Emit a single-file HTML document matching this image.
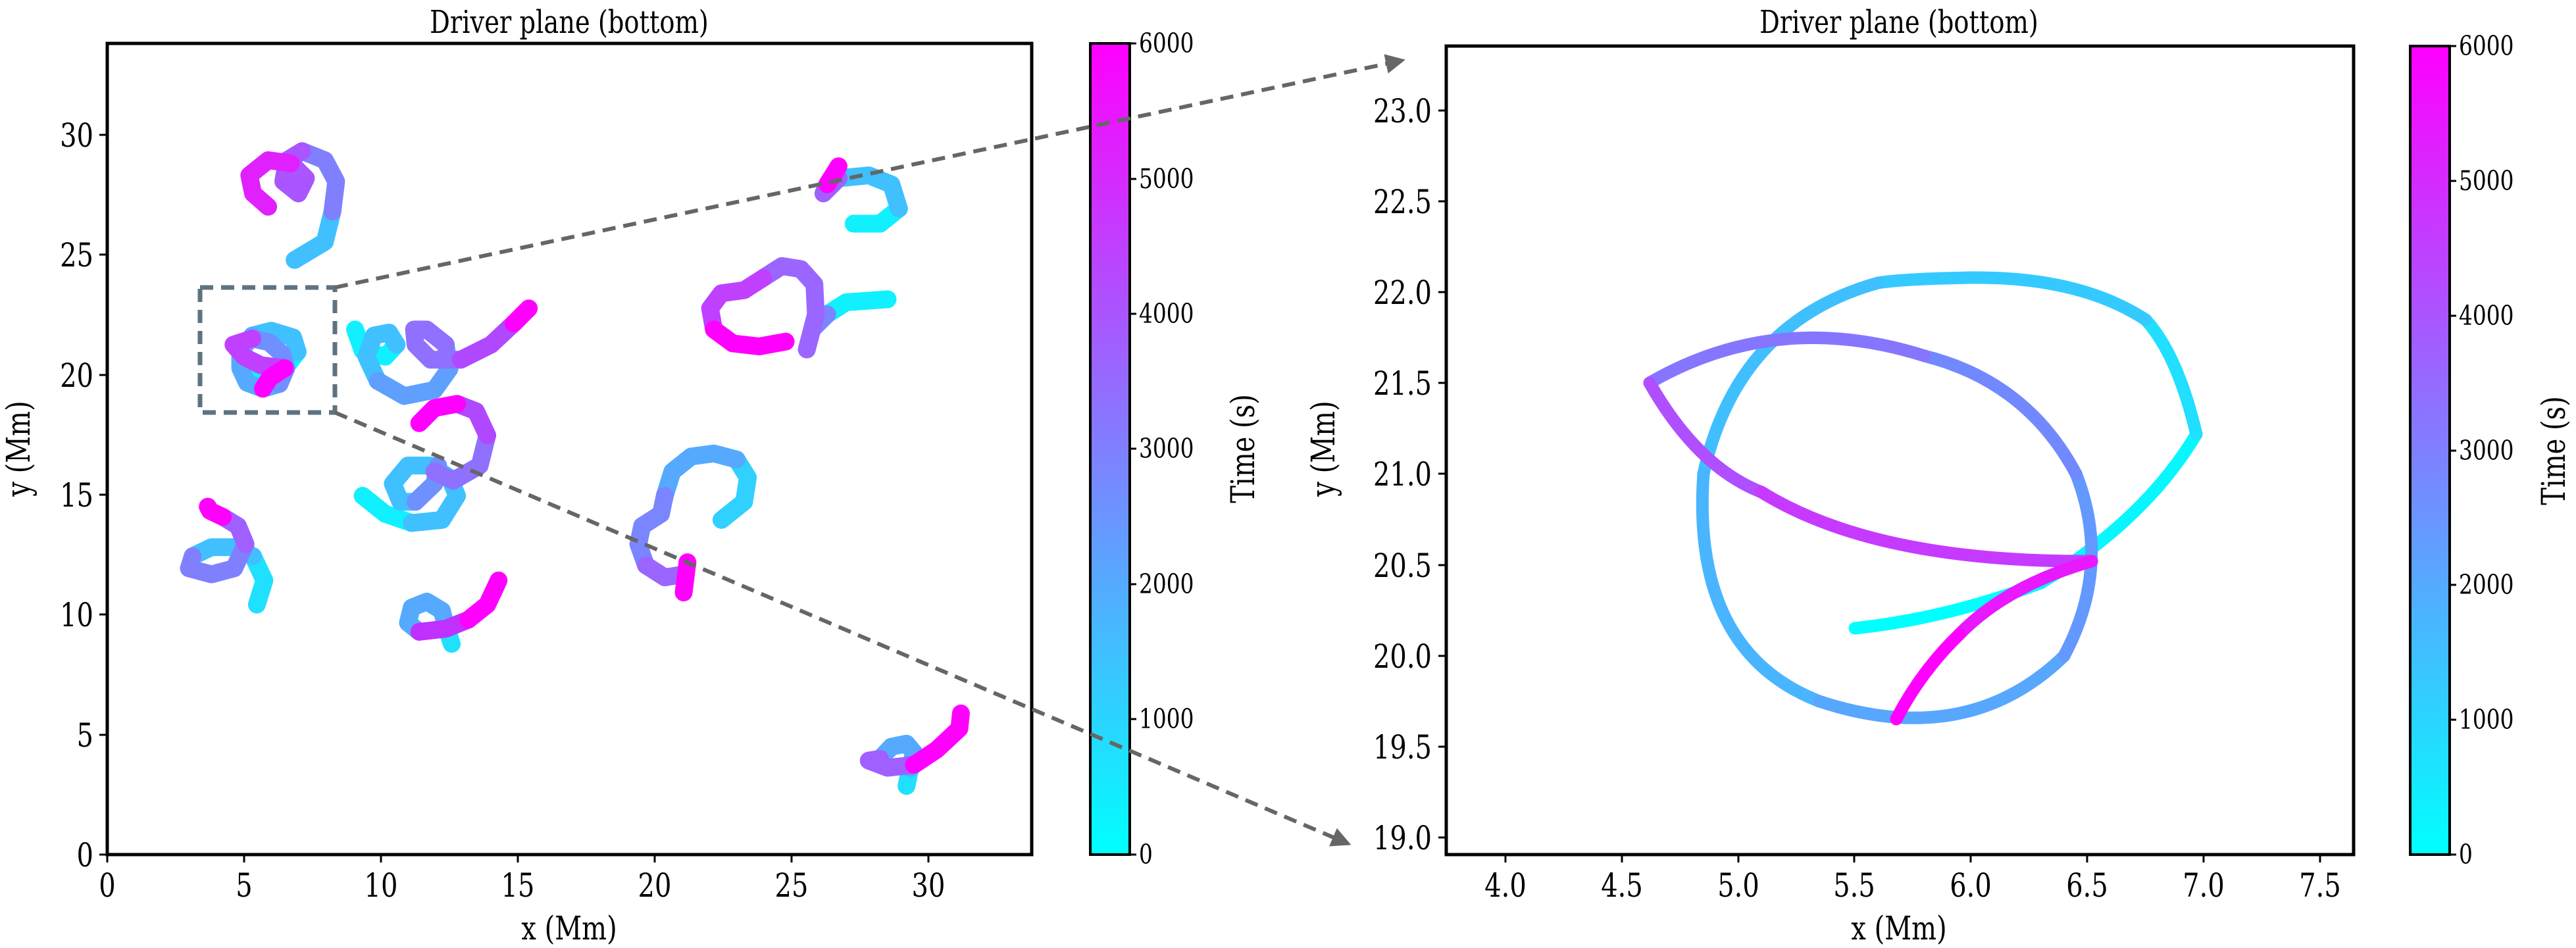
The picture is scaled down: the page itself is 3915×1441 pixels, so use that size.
<!DOCTYPE html>
<html><head><meta charset="utf-8"><style>
html,body{margin:0;padding:0;background:#fff;}
svg{display:block;}
text{font-family:"DejaVu Serif","Liberation Serif",serif;fill:#000;}
</style></head><body>
<svg width="3915" height="1441" viewBox="0 0 3915 1441" xmlns="http://www.w3.org/2000/svg">
<defs>
<linearGradient id="cb" x1="0" y1="1" x2="0" y2="0">
<stop offset="0" stop-color="#00ffff"/><stop offset="1" stop-color="#ff00ff"/>
</linearGradient>
<marker id="ah" viewBox="0 0 10 10" refX="8" refY="5" markerWidth="5" markerHeight="5" orient="auto" markerUnits="strokeWidth">
<path d="M0,0 L10,5 L0,10 z" fill="#666"/>
</marker>
</defs>

<text transform="translate(865,50) scale(0.8,1)" font-size="48" text-anchor="middle">Driver plane (bottom)</text>
<g transform="scale(1.1481,0.9190)" fill="none" stroke-linecap="round" stroke-linejoin="round" stroke-width="27">
<polyline vector-effect="non-scaling-stroke" stroke="#40c0ff" points="390,430 430,400 440,350"/>
<polyline vector-effect="non-scaling-stroke" stroke="#8080ff" points="440,350 445,300 430,265 400,250"/>
<polyline vector-effect="non-scaling-stroke" stroke="#aa55ff" points="400,250 380,265 375,300 395,320 405,295 385,270"/>
<polyline vector-effect="non-scaling-stroke" stroke="#e020ff" points="385,270 355,265 330,290 335,320 355,342"/>
<polyline vector-effect="non-scaling-stroke" stroke="#10f0ff" points="341,623 377,609 394,582"/>
<polyline vector-effect="non-scaling-stroke" stroke="#40c0ff" points="394,582 388,558 359,547 334,555"/>
<polyline vector-effect="non-scaling-stroke" stroke="#55aaff" points="334,555 318,582 318,609 327,633 348,643 370,635"/>
<polyline vector-effect="non-scaling-stroke" stroke="#7090ff" points="370,635 379,609 374,586 356,566 334,560"/>
<polyline vector-effect="non-scaling-stroke" stroke="#c040ff" points="334,560 309,570 323,590 345,604 377,609"/>
<polyline vector-effect="non-scaling-stroke" stroke="#ff00ff" points="377,609 357,625 348,643"/>
<polyline vector-effect="non-scaling-stroke" stroke="#10f0ff" points="470,545 480,580 510,590 525,570"/>
<polyline vector-effect="non-scaling-stroke" stroke="#40c0ff" points="525,570 515,550 495,555 485,590 500,630"/>
<polyline vector-effect="non-scaling-stroke" stroke="#5fa0ff" points="500,630 535,655 575,645 595,610 590,570"/>
<polyline vector-effect="non-scaling-stroke" stroke="#9070ff" points="590,570 565,545 548,545 550,570 570,595 610,595"/>
<polyline vector-effect="non-scaling-stroke" stroke="#b048ff" points="610,595 650,570 680,535"/>
<polyline vector-effect="non-scaling-stroke" stroke="#ff00ff" points="680,535 700,510"/>
<polyline vector-effect="non-scaling-stroke" stroke="#10f0ff" points="480,820 510,850 545,865"/>
<polyline vector-effect="non-scaling-stroke" stroke="#40c0ff" points="545,865 585,860 605,820 595,790 570,770 540,770 520,800 530,830 550,830"/>
<polyline vector-effect="non-scaling-stroke" stroke="#6f90ff" points="550,830 575,800 580,770"/>
<polyline vector-effect="non-scaling-stroke" stroke="#8f70ff" points="575,780 600,795 635,770 645,720"/>
<polyline vector-effect="non-scaling-stroke" stroke="#b048ff" points="645,720 630,680 605,668"/>
<polyline vector-effect="non-scaling-stroke" stroke="#ff00ff" points="605,668 575,675 555,700"/>
<polyline vector-effect="non-scaling-stroke" stroke="#20e0ff" points="340,1000 350,960 335,920"/>
<polyline vector-effect="non-scaling-stroke" stroke="#40c0ff" points="335,920 310,905 280,905 255,920"/>
<polyline vector-effect="non-scaling-stroke" stroke="#8080ff" points="255,920 250,940 280,950 310,940 325,900"/>
<polyline vector-effect="non-scaling-stroke" stroke="#a060ff" points="325,900 315,870 295,855"/>
<polyline vector-effect="non-scaling-stroke" stroke="#ff00ff" points="295,855 278,845 275,838"/>
<polyline vector-effect="non-scaling-stroke" stroke="#20e0ff" points="598,1065 590,1035"/>
<polyline vector-effect="non-scaling-stroke" stroke="#55aaff" points="590,1035 585,1010 565,995 545,1005 540,1030 555,1045"/>
<polyline vector-effect="non-scaling-stroke" stroke="#c030ff" points="555,1045 590,1040 620,1025"/>
<polyline vector-effect="non-scaling-stroke" stroke="#ff00ff" points="620,1025 645,1000 660,960"/>
<polyline vector-effect="non-scaling-stroke" stroke="#30d0ff" points="955,860 985,830 990,790 975,760"/>
<polyline vector-effect="non-scaling-stroke" stroke="#55aaff" points="975,760 945,750 915,755 890,780 880,820"/>
<polyline vector-effect="non-scaling-stroke" stroke="#7a85ff" points="880,820 875,850 850,870 845,900 855,935"/>
<polyline vector-effect="non-scaling-stroke" stroke="#9a66ff" points="855,935 880,955 905,950"/>
<polyline vector-effect="non-scaling-stroke" stroke="#ff00ff" points="910,930 905,980"/>
<polyline vector-effect="non-scaling-stroke" stroke="#10f0ff" points="1175,495 1120,500 1095,520"/>
<polyline vector-effect="non-scaling-stroke" stroke="#7a85ff" points="1095,520 1075,545 1068,578"/>
<polyline vector-effect="non-scaling-stroke" stroke="#9a66ff" points="1068,578 1080,520 1078,470 1060,445 1035,440 1010,460"/>
<polyline vector-effect="non-scaling-stroke" stroke="#c040ff" points="1010,460 985,480 955,485 940,510 945,545"/>
<polyline vector-effect="non-scaling-stroke" stroke="#ff00ff" points="945,545 970,568 1005,573 1040,565"/>
<polyline vector-effect="non-scaling-stroke" stroke="#10f0ff" points="1130,370 1165,370 1190,345"/>
<polyline vector-effect="non-scaling-stroke" stroke="#40c0ff" points="1190,345 1180,305 1150,290 1110,295"/>
<polyline vector-effect="non-scaling-stroke" stroke="#a060ff" points="1110,295 1090,320 1095,305"/>
<polyline vector-effect="non-scaling-stroke" stroke="#ff00ff" points="1095,305 1110,275"/>
<polyline vector-effect="non-scaling-stroke" stroke="#20e0ff" points="1200,1300 1205,1270"/>
<polyline vector-effect="non-scaling-stroke" stroke="#55aaff" points="1205,1270 1210,1245 1200,1230 1180,1235 1165,1255"/>
<polyline vector-effect="non-scaling-stroke" stroke="#a060ff" points="1165,1255 1150,1258 1175,1270 1210,1265"/>
<polyline vector-effect="non-scaling-stroke" stroke="#ff00ff" points="1210,1265 1240,1240 1270,1205 1272,1180"/>
</g>

<rect x="163" y="66" width="1405" height="1233" fill="none" stroke="#000" stroke-width="5"/>
<g stroke="#000" stroke-width="3">
<line x1="163" y1="1299" x2="163" y2="1311"/><line x1="371" y1="1299" x2="371" y2="1311"/><line x1="579" y1="1299" x2="579" y2="1311"/><line x1="787" y1="1299" x2="787" y2="1311"/><line x1="995" y1="1299" x2="995" y2="1311"/><line x1="1203" y1="1299" x2="1203" y2="1311"/><line x1="1411" y1="1299" x2="1411" y2="1311"/>
<line x1="151" y1="1299" x2="163" y2="1299"/><line x1="151" y1="1117" x2="163" y2="1117"/><line x1="151" y1="934" x2="163" y2="934"/><line x1="151" y1="752" x2="163" y2="752"/><line x1="151" y1="570" x2="163" y2="570"/><line x1="151" y1="387" x2="163" y2="387"/><line x1="151" y1="205" x2="163" y2="205"/>
</g>
<g font-size="50" text-anchor="middle">
<text transform="translate(163,1363) scale(0.8,1)">0</text><text transform="translate(371,1363) scale(0.8,1)">5</text><text transform="translate(579,1363) scale(0.8,1)">10</text><text transform="translate(787,1363) scale(0.8,1)">15</text><text transform="translate(995,1363) scale(0.8,1)">20</text><text transform="translate(1203,1363) scale(0.8,1)">25</text><text transform="translate(1411,1363) scale(0.8,1)">30</text>
</g>
<g font-size="50" text-anchor="end">
<text transform="translate(142,1317) scale(0.8,1)">0</text><text transform="translate(142,1135) scale(0.8,1)">5</text><text transform="translate(142,952) scale(0.8,1)">10</text><text transform="translate(142,770) scale(0.8,1)">15</text><text transform="translate(142,588) scale(0.8,1)">20</text><text transform="translate(142,405) scale(0.8,1)">25</text><text transform="translate(142,223) scale(0.8,1)">30</text>
</g>
<text transform="translate(865,1428) scale(0.8,1)" font-size="50" text-anchor="middle">x (Mm)</text>
<text transform="translate(45,682) rotate(-90) scale(0.8,1)" font-size="50" text-anchor="middle">y (Mm)</text>

<rect x="1657" y="66" width="60" height="1233" fill="url(#cb)" stroke="#000" stroke-width="4"/>
<g stroke="#000" stroke-width="3">
<line x1="1717" y1="1299" x2="1727" y2="1299"/><line x1="1717" y1="1093" x2="1727" y2="1093"/><line x1="1717" y1="888" x2="1727" y2="888"/><line x1="1717" y1="682" x2="1727" y2="682"/><line x1="1717" y1="477" x2="1727" y2="477"/><line x1="1717" y1="272" x2="1727" y2="272"/><line x1="1717" y1="66" x2="1727" y2="66"/>
</g>
<g font-size="41">
<text transform="translate(1731,1313) scale(0.8,1)">0</text><text transform="translate(1731,1107) scale(0.8,1)">1000</text><text transform="translate(1731,902) scale(0.8,1)">2000</text><text transform="translate(1731,696) scale(0.8,1)">3000</text><text transform="translate(1731,491) scale(0.8,1)">4000</text><text transform="translate(1731,286) scale(0.8,1)">5000</text><text transform="translate(1731,80) scale(0.8,1)">6000</text>
</g>
<text transform="translate(1906,682) rotate(-90) scale(0.8,1)" font-size="50" text-anchor="middle">Time (s)</text>

<rect x="304" y="437" width="205" height="190" fill="none" stroke="#5f7280" stroke-width="7" stroke-dasharray="20 12"/>
<line x1="509" y1="437" x2="2130" y2="92" stroke="#666" stroke-width="6" stroke-dasharray="20 12" marker-end="url(#ah)"/>
<line x1="509" y1="627" x2="2048" y2="1282" stroke="#666" stroke-width="6" stroke-dasharray="20 12" marker-end="url(#ah)"/>

<text transform="translate(2886,50) scale(0.8,1)" font-size="48" text-anchor="middle">Driver plane (bottom)</text>
<g fill="none" stroke-linecap="round" stroke-linejoin="round" stroke-width="19">
<path stroke="#00ffff" d="M2819,955 Q2960,940 3102,886"/>
<path stroke="#08f7ff" d="M3102,886 Q3260,790 3338,660"/>
<path stroke="#20dfff" d="M3338,660 Q3310,540 3261,486"/>
<path stroke="#35caff" d="M3261,486 Q3160,420 2995,422 Q2890,424 2854,430"/>
<path stroke="#40bfff" d="M2854,430 Q2640,490 2589,720"/>
<path stroke="#4ab5ff" d="M2589,720 Q2570,990 2765,1066"/>
<path stroke="#58a7ff" d="M2765,1066 Q2990,1140 3137,997"/>
<path stroke="#6399ff" d="M3137,997 Q3210,860 3155,720"/>
<path stroke="#7288ff" d="M3155,720 Q3080,580 2925,541"/>
<path stroke="#8676ff" d="M2925,541 Q2700,470 2507,582"/>
<path stroke="#b04fff" d="M2507,582 Q2580,710 2677,748"/>
<path stroke="#c63aff" d="M2677,748 Q2850,855 3179,853"/>
<path stroke="#e818ff" d="M3179,853 Q3050,890 2978,964"/>
<path stroke="#ff00ff" d="M2978,964 Q2920,1020 2882,1093"/>
</g>
<rect x="2198" y="70" width="1379" height="1229" fill="none" stroke="#000" stroke-width="5"/>
<g stroke="#000" stroke-width="3">
<line x1="2288" y1="1299" x2="2288" y2="1311"/><line x1="2465" y1="1299" x2="2465" y2="1311"/><line x1="2642" y1="1299" x2="2642" y2="1311"/><line x1="2818" y1="1299" x2="2818" y2="1311"/><line x1="2995" y1="1299" x2="2995" y2="1311"/><line x1="3172" y1="1299" x2="3172" y2="1311"/><line x1="3349" y1="1299" x2="3349" y2="1311"/><line x1="3526" y1="1299" x2="3526" y2="1311"/>
<line x1="2186" y1="168" x2="2198" y2="168"/><line x1="2186" y1="306" x2="2198" y2="306"/><line x1="2186" y1="444" x2="2198" y2="444"/><line x1="2186" y1="582" x2="2198" y2="582"/><line x1="2186" y1="720" x2="2198" y2="720"/><line x1="2186" y1="859" x2="2198" y2="859"/><line x1="2186" y1="997" x2="2198" y2="997"/><line x1="2186" y1="1135" x2="2198" y2="1135"/><line x1="2186" y1="1273" x2="2198" y2="1273"/>
</g>
<g font-size="50" text-anchor="middle">
<text transform="translate(2288,1363) scale(0.8,1)">4.0</text><text transform="translate(2465,1363) scale(0.8,1)">4.5</text><text transform="translate(2642,1363) scale(0.8,1)">5.0</text><text transform="translate(2818,1363) scale(0.8,1)">5.5</text><text transform="translate(2995,1363) scale(0.8,1)">6.0</text><text transform="translate(3172,1363) scale(0.8,1)">6.5</text><text transform="translate(3349,1363) scale(0.8,1)">7.0</text><text transform="translate(3526,1363) scale(0.8,1)">7.5</text>
</g>
<g font-size="50" text-anchor="end">
<text transform="translate(2176,186) scale(0.8,1)">23.0</text><text transform="translate(2176,324) scale(0.8,1)">22.5</text><text transform="translate(2176,462) scale(0.8,1)">22.0</text><text transform="translate(2176,600) scale(0.8,1)">21.5</text><text transform="translate(2176,738) scale(0.8,1)">21.0</text><text transform="translate(2176,877) scale(0.8,1)">20.5</text><text transform="translate(2176,1015) scale(0.8,1)">20.0</text><text transform="translate(2176,1153) scale(0.8,1)">19.5</text><text transform="translate(2176,1291) scale(0.8,1)">19.0</text>
</g>
<text transform="translate(2886,1428) scale(0.8,1)" font-size="50" text-anchor="middle">x (Mm)</text>
<text transform="translate(2028,682) rotate(-90) scale(0.8,1)" font-size="50" text-anchor="middle">y (Mm)</text>

<rect x="3663" y="70" width="60" height="1229" fill="url(#cb)" stroke="#000" stroke-width="4"/>
<g stroke="#000" stroke-width="3">
<line x1="3723" y1="1299" x2="3733" y2="1299"/><line x1="3723" y1="1094" x2="3733" y2="1094"/><line x1="3723" y1="889" x2="3733" y2="889"/><line x1="3723" y1="685" x2="3733" y2="685"/><line x1="3723" y1="480" x2="3733" y2="480"/><line x1="3723" y1="275" x2="3733" y2="275"/><line x1="3723" y1="70" x2="3733" y2="70"/>
</g>
<g font-size="41">
<text transform="translate(3737,1313) scale(0.8,1)">0</text><text transform="translate(3737,1108) scale(0.8,1)">1000</text><text transform="translate(3737,903) scale(0.8,1)">2000</text><text transform="translate(3737,699) scale(0.8,1)">3000</text><text transform="translate(3737,494) scale(0.8,1)">4000</text><text transform="translate(3737,289) scale(0.8,1)">5000</text><text transform="translate(3737,84) scale(0.8,1)">6000</text>
</g>
<text transform="translate(3898,685) rotate(-90) scale(0.8,1)" font-size="50" text-anchor="middle">Time (s)</text>
</svg>
</body></html>
